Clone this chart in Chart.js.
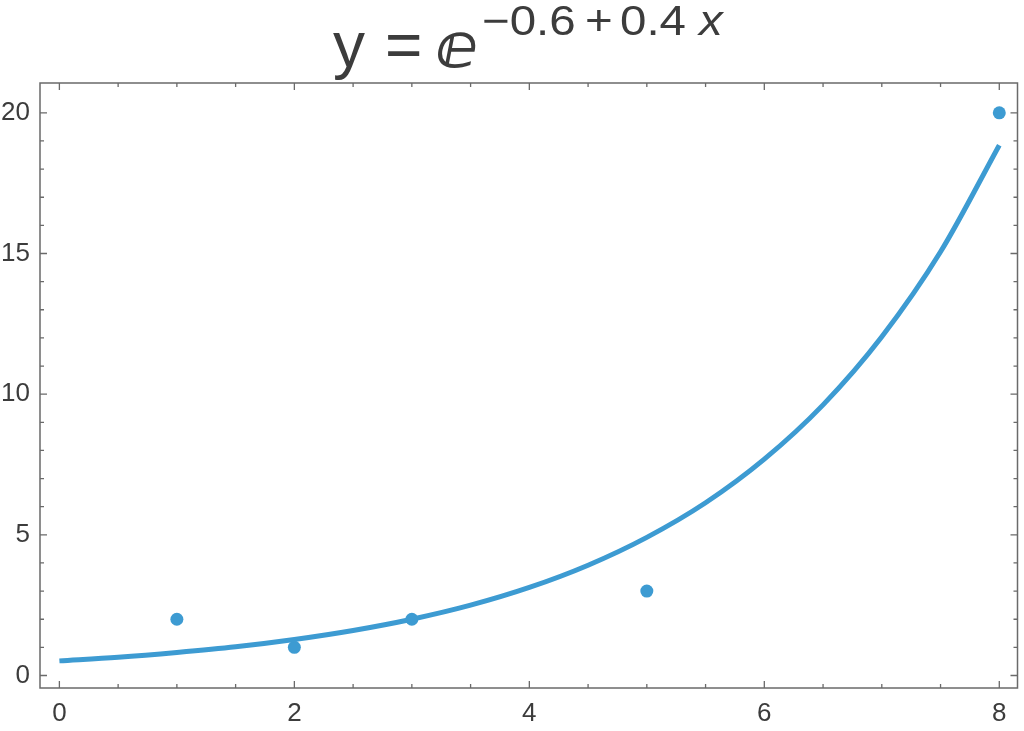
<!DOCTYPE html>
<html><head><meta charset="utf-8">
<script src="https://cdn.jsdelivr.net/npm/chart.js@4/dist/chart.umd.min.js"></script>
<style>html,body{margin:0;padding:0;background:#fff}#wrap{width:1024px;height:731px;position:relative}</style>
</head><body><div id="wrap"><canvas id="c"></canvas></div>
<script>
// data points
const pointX = [1, 2, 3, 5, 8];
const pointY = [2, 1, 2, 3, 20];
// fitted curve
const curveX = [0, 0.5, 1, 1.5, 2, 2.5, 3, 3.5, 4, 4.5, 5, 5.5, 6, 6.5, 7, 7.5, 8];
const curveY = [0.52, 0.65, 0.82, 1.02, 1.28, 1.60, 2.00, 2.50, 3.13, 3.92, 4.91, 6.14, 7.69, 9.62, 12.04, 15.06, 18.85];
// tick labels
const xTicks = [0, 2, 4, 6, 8];
const yTicks = [0, 5, 10, 15, 20];
const xMinorTicks = [0, 0.5, 1, 1.5, 2, 2.5, 3, 3.5, 4, 4.5, 5, 5.5, 6, 6.5, 7, 7.5, 8];
const yMinorTicks = [0,1,2,3,4,5,6,7,8,9,10,11,12,13,14,15,16,17,18,19,20];
// title pieces
const titleLeft = 'y';
const titleEq = '=';
const titleE = 'ⅇ';
const titleExpParts = ['−0.6', '+', '0.4'];
const titleExpVar = 'x';

const BLUE = '#3d9bd2';
const FRAME = '#6a6a6a';
const TEXT = '#3c3c3c';

const framePlugin = {
  id: 'frame',
  afterDraw(chart) {
    const ctx = chart.ctx, a = chart.chartArea;
    const xs = chart.scales.x, ys = chart.scales.y;
    ctx.save();
    ctx.strokeStyle = FRAME;
    ctx.lineWidth = 1.5;
    ctx.strokeRect(a.left, a.top, a.right - a.left, a.bottom - a.top);
    ctx.lineWidth = 1.3;
    ctx.beginPath();
    xMinorTicks.forEach(v => {
      const len = xTicks.includes(v) ? 7 : 4;
      const px = xs.getPixelForValue(v);
      ctx.moveTo(px, a.bottom); ctx.lineTo(px, a.bottom - len);
      ctx.moveTo(px, a.top); ctx.lineTo(px, a.top + len);
    });
    yMinorTicks.forEach(v => {
      const len = yTicks.includes(v) ? 7 : 4;
      const py = ys.getPixelForValue(v);
      ctx.moveTo(a.left, py); ctx.lineTo(a.left + len, py);
      ctx.moveTo(a.right, py); ctx.lineTo(a.right - len, py);
    });
    ctx.stroke();
    // title
    ctx.fillStyle = TEXT;
    ctx.textBaseline = 'alphabetic';
    ctx.textAlign = 'left';
    ctx.font = '64px "Liberation Sans", Arial, sans-serif';
    ctx.fillText(titleLeft, 333, 67);
    ctx.fillText(titleEq, 385, 67);
    ctx.font = 'bold 62px "DejaVu Sans", sans-serif';
    ctx.fillText(titleE, 436, 67);
    const drawScaled = (txt, x, y, font) => {
      ctx.save();
      ctx.font = font;
      ctx.translate(x, y);
      ctx.scale(1.13, 1);
      ctx.fillText(txt, 0, 0);
      ctx.restore();
    };
    const f = '42px "Liberation Sans", Arial, sans-serif';
    drawScaled(titleExpParts[0], 482, 35, f);
    drawScaled(titleExpParts[1], 585, 35, f);
    drawScaled(titleExpParts[2], 620, 35, f);
    drawScaled(titleExpVar, 699, 35, 'italic ' + f);
    ctx.restore();
  }
};

new Chart(document.getElementById('c'), {
  type: 'scatter',
  data: {
    datasets: [
      {
        type: 'line',
        data: curveX.map((x, i) => ({x, y: curveY[i]})),
        borderColor: BLUE,
        borderWidth: 5,
        pointRadius: 0,
        fill: false,
        cubicInterpolationMode: 'monotone',
        borderCapStyle: 'butt'
      },
      {
        data: pointX.map((x, i) => ({x, y: pointY[i]})),
        backgroundColor: BLUE,
        borderWidth: 0,
        pointRadius: 6.5
      }
    ]
  },
  options: {
    responsive: true,
    maintainAspectRatio: false,
    animation: false,
    events: [],
    layout: {padding: {top: 83, right: 4, left: 0, bottom: 0}},
    plugins: {legend: {display: false}, tooltip: {enabled: false}, title: {display: false}},
    scales: {
      x: {
        type: 'linear', min: -0.165, max: 8.155,
        afterBuildTicks: s => { s.ticks = xTicks.map(v => ({value: v})); },
        afterFit: s => { s.height = 43; },
        grid: {display: false, drawTicks: false, tickLength: 0},
        border: {display: false},
        ticks: {color: TEXT, font: {family: '"Liberation Sans", Arial, sans-serif', size: 26}, padding: 10, maxRotation: 0, autoSkip: false}
      },
      y: {
        type: 'linear', min: -0.444, max: 21.06,
        afterBuildTicks: s => { s.ticks = yTicks.map(v => ({value: v})); },
        afterFit: s => { s.width = 40; },
        grid: {display: false, drawTicks: false, tickLength: 0},
        border: {display: false},
        ticks: {color: TEXT, font: {family: '"Liberation Sans", Arial, sans-serif', size: 26}, padding: 10, autoSkip: false}
      }
    }
  },
  plugins: [framePlugin]
});
</script>
</body></html>
